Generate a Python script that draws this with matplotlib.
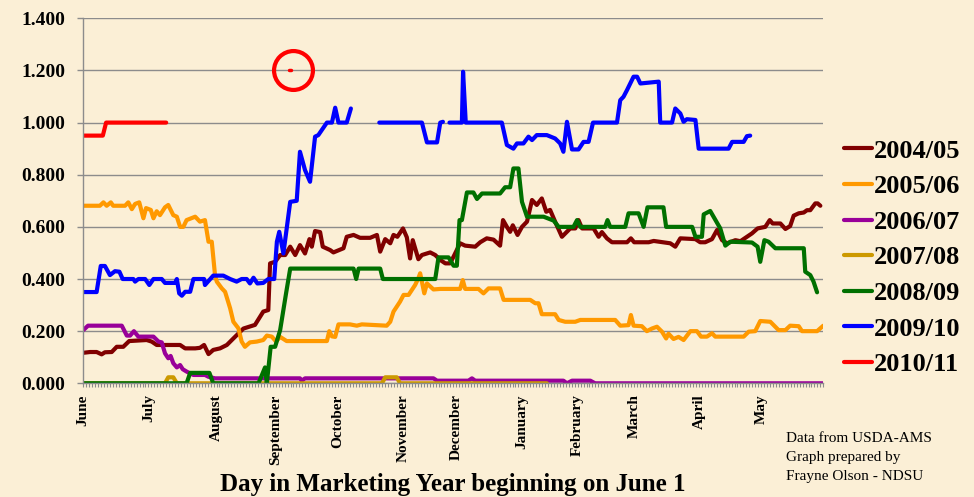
"""Daily cash/futures ratio by marketing year, June-May, 2004/05 - 2010/11."""

import numpy as np
import matplotlib
matplotlib.use("Agg")
import matplotlib.pyplot as plt
import matplotlib.transforms as mtransforms
from matplotlib.ticker import MultipleLocator, FormatStrFormatter

nan = np.nan

# ── data (x = trading day of marketing year, y = value) ──────────────────────
MONTHS     = ["June", "July", "August", "September", "October", "November",
              "December", "January", "February", "March", "April", "May"]
MONTH_DAY  = [0, 22, 45, 65, 86, 108, 126, 148, 167, 186, 208, 229]
N_DAYS     = 250

y0405_x = [0, 2.3, 4.5, 6.2, 7.3, 9.6, 11.3, 13.5, 15.5, 21.4, 23.1, 24.8, 32.7, 34.4,
           37.8, 39.4, 40.8, 42.3, 43.9, 46.2, 48.5, 50.7, 54.1, 58.0, 60.8, 62.5, 63.1,
           64.8, 66.5, 68.2, 69.9, 71.6, 73.2, 74.9, 76.4, 77.2, 78.3, 80.0, 80.9, 83.4,
           84.5, 87.9, 89.0, 91.3, 93.5, 96.9, 99.2, 100.3, 102.0, 103.7, 104.8, 106.1,
           108.0, 109.3, 110.4, 111.3, 113.2, 114.4, 117.2, 118.9, 120.6, 122.3, 123.9,
           125.1, 127.3, 129.0, 132.4, 134.1, 136.3, 138.6, 140.8, 141.8, 143.1, 144.2,
           145.1, 146.7, 148.2, 149.9, 151.6, 153.2, 154.9, 156.4, 157.7, 159.4, 161.7,
           164.5, 166.2, 167.3, 168.5, 172.4, 174.1, 175.2, 176.9, 178.6, 183.7, 185.0,
           186.1, 191.0, 192.7, 198.3, 200.0, 201.7, 206.8, 208.4, 210.1, 212.4, 214.1,
           215.8, 217.5, 220.3, 222.0, 224.2, 225.9, 227.8, 230.4, 231.9, 232.9, 235.5,
           237.2, 238.8, 240.0, 241.7, 243.4, 244.5, 245.6, 247.3, 248.1, 249.0]
y0405_y = [0.117, 0.12, 0.12, 0.111, 0.119, 0.12, 0.14, 0.14, 0.162, 0.166, 0.16, 0.147,
           0.147, 0.134, 0.134, 0.136, 0.147, 0.112, 0.128, 0.134, 0.147, 0.172, 0.21,
           0.224, 0.275, 0.281, 0.46, 0.466, 0.492, 0.492, 0.524, 0.492, 0.53, 0.498,
           0.553, 0.524, 0.584, 0.58, 0.524, 0.511, 0.502, 0.518, 0.562, 0.569, 0.558,
           0.558, 0.569, 0.505, 0.553, 0.537, 0.569, 0.562, 0.594, 0.56, 0.479, 0.549,
           0.476, 0.492, 0.502, 0.492, 0.473, 0.46, 0.46, 0.486, 0.537, 0.528, 0.524,
           0.541, 0.556, 0.551, 0.528, 0.626, 0.60, 0.581, 0.606, 0.569, 0.60, 0.62,
           0.703, 0.684, 0.709, 0.658, 0.665, 0.62, 0.562, 0.594, 0.594, 0.626, 0.594,
           0.594, 0.562, 0.58, 0.556, 0.541, 0.541, 0.556, 0.541, 0.541, 0.546, 0.537,
           0.524, 0.556, 0.553, 0.541, 0.541, 0.553, 0.588, 0.549, 0.537, 0.549, 0.545,
           0.562, 0.575, 0.594, 0.60, 0.626, 0.613, 0.613, 0.592, 0.603, 0.643, 0.652,
           0.655, 0.664, 0.664, 0.690, 0.69, 0.681]

y0506_x = [0, 5.6, 6.8, 7.9, 9.3, 10.1, 14.1, 15.2, 16.4, 17.5, 18.9, 20.3, 21.2, 22.8,
           23.7, 24.8, 25.9, 27.6, 28.7, 30.4, 31.6, 32.7, 33.8, 34.9, 37.8, 39.4, 41.1,
           42.3, 43.4, 44.5, 45.1, 46.8, 47.9, 49.6, 50.7, 52.4, 53.5, 54.6, 56.3, 58.6,
           60.8, 62.0, 63.7, 65.1, 66.5, 68.7, 82.3, 83.1, 84.0, 85.1, 86.2, 90.1, 92.4,
           94.1, 102.5, 103.7, 104.8, 107.0, 108.2, 109.9, 111.0, 112.1, 113.2, 113.8,
           115.2, 116.1, 118.3, 120.6, 127.3, 128.2, 129.0, 133.5, 135.2, 136.9, 140.8,
           142.0, 151.0, 152.7, 153.8, 154.9, 159.4, 160.6, 162.8, 166.2, 167.9, 179.7,
           181.4, 184.2, 185.0, 185.9, 188.7, 190.4, 192.1, 193.8, 195.5, 196.9, 197.7,
           199.4, 201.1, 202.8, 205.1, 207.3, 208.7, 210.7, 212.4, 213.5, 223.1, 224.8,
           227.0, 228.7, 232.1, 234.9, 237.2, 238.8, 241.7, 242.8, 247.9, 250.0]
y0506_y = [0.681, 0.681, 0.694, 0.681, 0.694, 0.681, 0.681, 0.694, 0.668, 0.688, 0.694,
           0.633, 0.672, 0.665, 0.633, 0.66, 0.645, 0.675, 0.684, 0.645, 0.639, 0.60,
           0.60, 0.626, 0.639, 0.62, 0.626, 0.543, 0.543, 0.415, 0.39, 0.364, 0.351,
           0.288, 0.236, 0.211, 0.16, 0.14, 0.157, 0.16, 0.166, 0.183, 0.179, 0.16,
           0.178, 0.162, 0.162, 0.20, 0.18, 0.178, 0.226, 0.226, 0.221, 0.226, 0.221,
           0.236, 0.275, 0.313, 0.339, 0.339, 0.358, 0.377, 0.403, 0.422, 0.345, 0.383,
           0.36, 0.362, 0.362, 0.396, 0.362, 0.362, 0.345, 0.364, 0.364, 0.32, 0.32,
           0.307, 0.307, 0.265, 0.265, 0.243, 0.236, 0.236, 0.243, 0.243, 0.221, 0.223,
           0.262, 0.221, 0.219, 0.20, 0.21, 0.217, 0.198, 0.172, 0.19, 0.17, 0.178,
           0.166, 0.20, 0.20, 0.179, 0.179, 0.192, 0.179, 0.179, 0.198, 0.20, 0.239,
           0.236, 0.204, 0.204, 0.221, 0.219, 0.20, 0.20, 0.221]

y0607_x = [0, 1.6, 13.0, 14.7, 15.8, 17.1, 18.6, 23.7, 25.4, 26.5, 27.6, 28.7, 29.5, 30.4,
           31.6, 32.7, 33.6, 34.9, 37.2, 41.1, 42.3, 44.5, 73.2, 73.8, 74.9, 118.3, 119.5,
           130.1, 131.3, 132.4, 162.2, 163.4, 165.1, 171.3, 172.9, 250.0]
y0607_y = [0.204, 0.221, 0.221, 0.183, 0.183, 0.20, 0.179, 0.179, 0.16, 0.157, 0.115,
           0.096, 0.105, 0.077, 0.061, 0.07, 0.054, 0.045, 0.032, 0.032, 0.025, 0.019,
           0.019, 0.01, 0.019, 0.019, 0.01, 0.01, 0.019, 0.01, 0.01, 0.0, 0.01, 0.01,
           0.0, 0.0]

y0708_x = [0, 27.6, 28.7, 30.4, 31.6, 100.9, 102.0, 105.9, 107.0, 156.6]
y0708_y = [0, 0, 0.023, 0.023, 0, 0, 0.023, 0.023, 0, 0]

y0809_x = [0, 34.9, 36.1, 42.6, 43.9, 59.2, 61.4, 62.0, 63.3, 64.8, 66.5, 68.5, 69.9,
           91.3, 92.2, 93.0, 100.3, 101.2, 118.9, 120.0, 123.4, 125.1, 126.2, 127.1,
           127.9, 129.6, 131.8, 133.0, 134.7, 140.8, 142.5, 144.2, 145.3, 147.0, 148.2,
           149.9, 155.5, 158.9, 160.6, 165.6, 166.8, 167.9, 176.3, 177.1, 178.0, 183.1,
           184.2, 187.6, 189.3, 190.6, 196.0, 196.9, 205.7, 206.8, 209.0, 209.6, 211.8,
           215.2, 216.9, 218.6, 225.9, 227.8, 228.7, 230.1, 231.5, 233.8, 243.4, 243.9,
           245.6, 246.7, 247.9]
y0809_y = [0, 0, 0.04, 0.04, 0, 0, 0.061, 0, 0.14, 0.14, 0.204, 0.345, 0.44, 0.44, 0.40,
           0.44, 0.44, 0.40, 0.40, 0.483, 0.483, 0.451, 0.451, 0.626, 0.626, 0.732, 0.732,
           0.707, 0.728, 0.728, 0.752, 0.752, 0.824, 0.824, 0.696, 0.639, 0.639, 0.624,
           0.60, 0.60, 0.626, 0.60, 0.60, 0.626, 0.60, 0.60, 0.652, 0.652, 0.60, 0.675,
           0.675, 0.60, 0.60, 0.562, 0.562, 0.648, 0.661, 0.594, 0.528, 0.543, 0.54,
           0.524, 0.466, 0.549, 0.543, 0.518, 0.518, 0.428, 0.415, 0.39, 0.349]

y0910_x = [0, 4.5, 5.9, 7.3, 9.0, 10.7, 12.2, 13.3, 16.9, 17.5, 18.6, 20.9, 22.3, 23.7,
           26.5, 27.6, 31.0, 31.6, 32.4, 33.3, 34.4, 36.1, 37.2, 40.8, 41.1, 43.9, 47.3,
           49.6, 51.8, 53.5, 55.2, 56.3, 57.5, 58.8, 60.8, 62.5, 64.5, 65.4, 66.2, 67.6,
           69.9, 72.1, 73.2, 74.9, 76.6, 78.3, 79.4, 82.3, 84.0, 85.1, 86.2, 89.0, 90.4,
           nan,
           100.0, 114.4, 116.1, 119.5, 120.6, 121.5,
           nan,
           123.7, 127.9, 128.3, 129.2, 141.4, 143.1, 145.3, 146.5, 148.7, 150.4, 151.6,
           153.2, 156.6, 159.4, 161.1, 162.2, 163.4, 165.1, 167.3, 169.0, 170.7, 172.2,
           180.3, 181.4, 182.5, 183.7, 185.9, 187.1, 188.2, 194.4, 194.9, 198.9, 200.0,
           201.7, 202.8, 203.9, 206.8, 207.9, 218.0, 219.2, 223.1, 224.2, 225.3]
y0910_y = [0.35, 0.35, 0.45, 0.45, 0.415, 0.43, 0.428, 0.40, 0.40, 0.39, 0.40, 0.40,
           0.377, 0.40, 0.40, 0.385, 0.385, 0.40, 0.345, 0.336, 0.351, 0.351, 0.40, 0.40,
           0.377, 0.413, 0.413, 0.40, 0.39, 0.40, 0.40, 0.383, 0.405, 0.383, 0.385, 0.40,
           0.40, 0.543, 0.581, 0.498, 0.696, 0.70, 0.888, 0.818, 0.773, 0.946, 0.952,
           1.0, 1.0, 1.057, 1.0, 1.0, 1.054,
           nan,
           1.0, 1.0, 0.924, 0.924, 1.0, 1.003,
           nan,
           1.0, 1.0, 1.195, 1.0, 1.0, 0.914, 0.90, 0.92, 0.92, 0.946, 0.933, 0.952,
           0.952, 0.939, 0.92, 0.888, 1.003, 0.897, 0.897, 0.926, 0.926, 1.0, 1.0, 1.086,
           1.099, 1.125, 1.176, 1.176, 1.15, 1.157, 1.0, 1.0, 1.054, 1.035, 1.003, 1.013,
           1.01, 0.90, 0.90, 0.926, 0.926, 0.948, 0.95]

y1011_x = [0, 6.6, 7.7, 28.0]
y1011_y = [0.95, 0.95, 1.0, 1.0]

# circled outlier
flag_x = [69.5, 70.3]
flag_y = [1.2, 1.2]

SERIES = [
    ("2004/05", y0405_x, y0405_y, "#800000"),
    ("2005/06", y0506_x, y0506_y, "#FF9900"),
    ("2006/07", y0607_x, y0607_y, "#990099"),
    ("2007/08", y0708_x, y0708_y, "#CC9900"),
    ("2008/09", y0809_x, y0809_y, "#007000"),
    ("2009/10", y0910_x, y0910_y, "#0000FF"),
    ("2010/11", y1011_x, y1011_y, "#FF0000"),
]

BG    = "#FBEFD6"
GRID  = "#8C8C8C"
SERIF = "Liberation Serif"

# ── figure ────────────────────────────────────────────────────────────────────
fig = plt.figure(figsize=(9.74, 4.97), dpi=100, facecolor=BG)
ax = fig.add_axes([83.3 / 974, 1 - 383.3 / 497, 740 / 974, 365 / 497])
ax.set_facecolor(BG)

for label, xs, ys, col in SERIES:
    ax.plot(xs, ys, color=col, lw=3.0, label=label, solid_joinstyle="round",
            solid_capstyle="round")

ax.plot(flag_x, flag_y, color="#FF0000", lw=2.5, solid_capstyle="round")
ax.plot([np.mean(flag_x) + 1.0], [1.2], marker="o", ms=28, mfc="none",
        mec="#FF0000", mew=3.0, ls="none")

# axes
ax.set_xlim(0, N_DAYS)
ax.set_ylim(0, 1.4)
ax.yaxis.set_major_locator(MultipleLocator(0.2))
ax.yaxis.set_major_formatter(FormatStrFormatter("%.3f"))
ax.grid(axis="y", color=GRID, lw=1.0)
ax.set_axisbelow(True)
for s in ("top", "right"):
    ax.spines[s].set_visible(False)
for s in ("left", "bottom"):
    ax.spines[s].set_color(GRID)
    ax.spines[s].set_linewidth(1.0)

ax.set_xticks(MONTH_DAY)
ax.set_xticklabels(MONTHS, rotation=90, fontsize=11, fontweight="bold",
                   family=SERIF, va="top", ha="center")
shift = mtransforms.ScaledTranslation(3 / 100, 0, fig.dpi_scale_trans)
for t in ax.get_xticklabels():
    t.set_transform(t.get_transform() + shift)
ax.xaxis.set_minor_locator(MultipleLocator(1))
ax.tick_params(axis="x", which="both", length=3, color=GRID, width=0.8, pad=5)
ax.tick_params(axis="y", length=4, color=GRID, width=1.0, pad=9)
for t in ax.get_yticklabels():
    t.set_fontsize(14)
    t.set_fontweight("bold")
    t.set_family(SERIF)

# legend
leg = ax.legend(loc="upper left", bbox_to_anchor=(831 / 974, 1 - 126 / 497),
                bbox_transform=fig.transFigure, frameon=False, borderpad=0,
                handlelength=1.05, handletextpad=0.08, labelspacing=0.46,
                prop={"family": SERIF, "weight": "bold", "size": 19})
for h in leg.get_lines():
    h.set_linewidth(3.0)

fig.text(453 / 974, 1 - 484 / 497, "Day in Marketing Year beginning on June 1",
         ha="center", va="center", fontsize=18, fontweight="bold", family=SERIF)
fig.text(786 / 974, 1 - 432 / 497,
         "Data from USDA-AMS\nGraph prepared by\nFrayne Olson - NDSU",
         ha="left", va="top", fontsize=11, family=SERIF, linespacing=1.58)

fig.savefig("out.png", dpi=100, facecolor=BG)
